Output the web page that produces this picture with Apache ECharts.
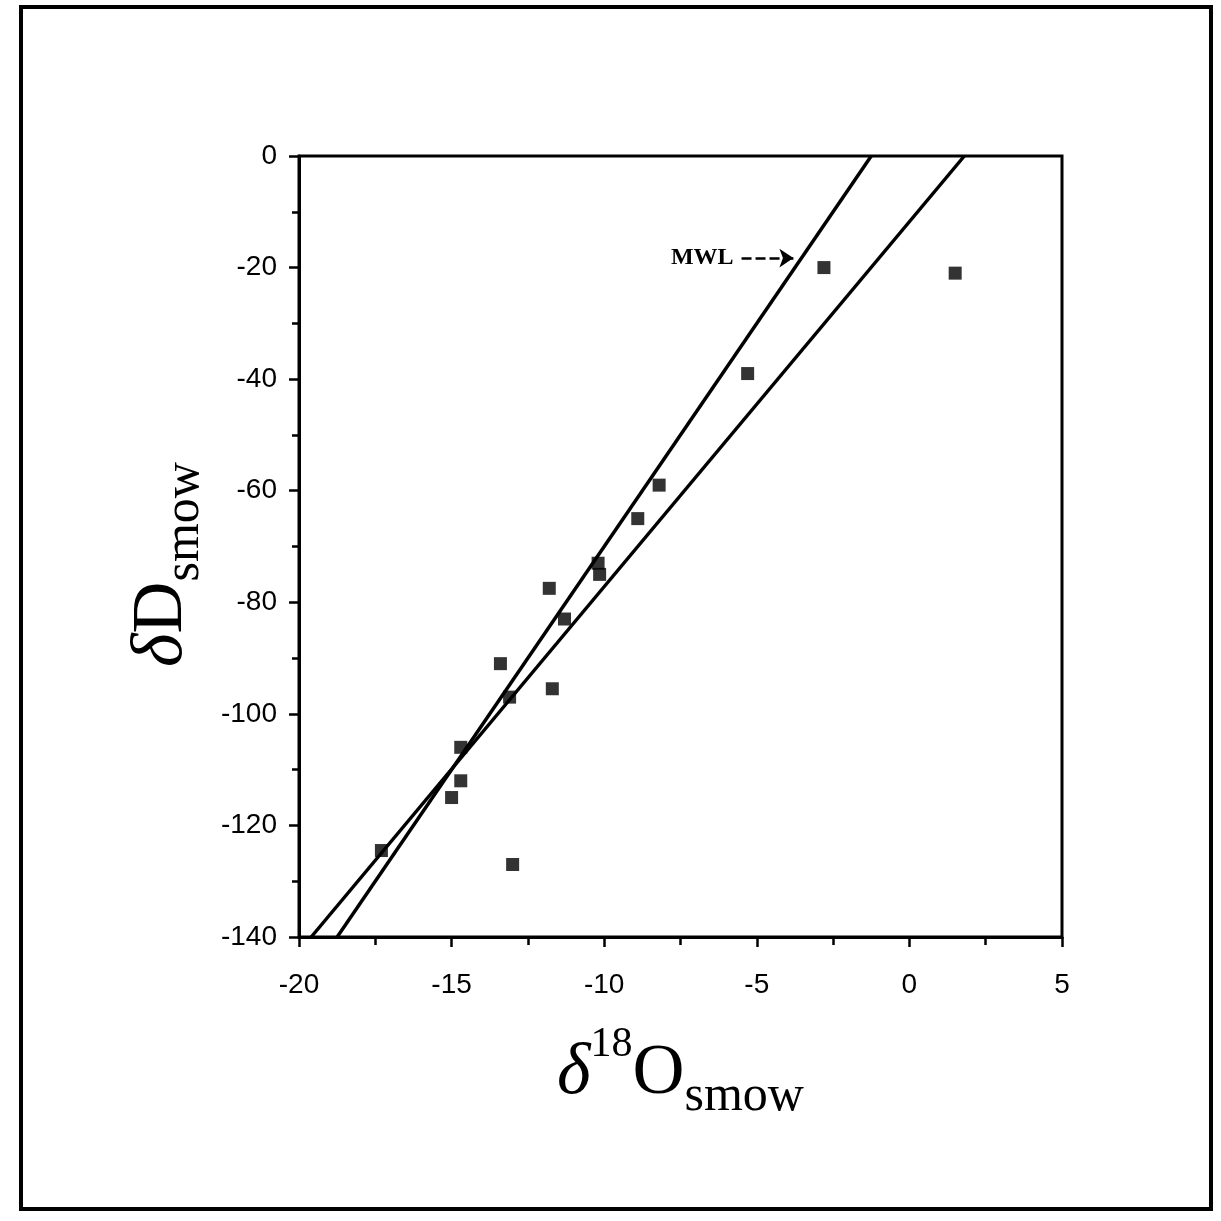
<!DOCTYPE html>
<html>
<head>
<meta charset="utf-8">
<script src="https://cdn.jsdelivr.net/npm/echarts@6/dist/echarts.min.js"></script>
<style>
html, body { margin: 0; padding: 0; background: #fff; }
#main { width: 1221px; height: 1221px; }
</style>
</head>
<body>
<div id="main"></div>
<script>
// samples: delta 18O vs delta D (per mil, SMOW)
let d18O = [-17.3, -15.0, -14.7, -14.7, -13.0, -13.1, -13.4, -11.7, -11.8, -11.3, -10.2, -10.15, -8.9, -8.2, -5.3, -2.8, 1.5];
let dD = [-124.5, -115, -112, -106, -127, -97, -91, -95.5, -77.5, -83, -73, -75, -65, -59, -39, -20, -21];

// meteoric water line and the local fit, given by their end points
let mwlEnds = [[-18.75, -140], [-1.25, 0]];
let fitEnds = [[-19.6, -140], [1.8, 0]];

// "MWL -->" pointer
let arrowFrom = [-5.5, -18.3];
let arrowTo = [-3.8, -18.3];

let xTicks = [-20, -15, -10, -5, 0, 5];
let yTicks = [-140, -120, -100, -80, -60, -40, -20, 0];

let chartDom = document.getElementById('main');
let myChart = echarts.init(chartDom);

let points = d18O.map(function(x, i) {
	return [x, dD[i]];
});

let nameRich = {
	d: {
		fontFamily: 'Liberation Serif',
		fontStyle: 'italic',
		fontSize: 72,
		lineHeight: 72,
		verticalAlign: 'top',
		padding: [24, 0, 0, 0],
		color: '#000'
	},
	big: {
		fontFamily: 'Liberation Serif',
		fontSize: 72,
		lineHeight: 72,
		verticalAlign: 'top',
		padding: [24, 0, 0, 0],
		color: '#000'
	},
	sup: {
		fontFamily: 'Liberation Serif',
		fontSize: 42,
		lineHeight: 42,
		verticalAlign: 'top',
		padding: [10, 0, 0, 0],
		color: '#000'
	},
	sub: {
		fontFamily: 'Liberation Serif',
		fontSize: 50,
		lineHeight: 50,
		verticalAlign: 'top',
		padding: [58, 0, 0, 0],
		color: '#000'
	}
};

let option = {
	animation: false,
	backgroundColor: '#fff',
	graphic: [{
		type: 'rect',
		shape: { x: 21, y: 7, width: 1190, height: 1202 },
		style: { fill: 'none', stroke: '#000', lineWidth: 4 }
	}],
	grid: {
		left: 299,
		right: 159,
		top: 156,
		bottom: 284,
		show: true,
		borderColor: '#000',
		borderWidth: 3
	},
	xAxis: {
		type: 'value',
		min: xTicks[0],
		max: xTicks[xTicks.length - 1],
		interval: 5,
		splitLine: { show: false },
		axisLine: { onZero: false, lineStyle: { color: '#000', width: 3 } },
		axisTick: { length: 10, lineStyle: { color: '#000', width: 2.5 } },
		minorTick: { show: true, splitNumber: 2, length: 8, lineStyle: { color: '#000', width: 2.5 } },
		axisLabel: {
			margin: 34,
			fontFamily: 'Liberation Sans',
			fontSize: 28,
			color: '#000'
		},
		name: '{d|δ}{sup|18}{big|O}{sub|smow}',
		nameLocation: 'middle',
		nameGap: 77,
		nameTextStyle: { rich: nameRich }
	},
	yAxis: {
		type: 'value',
		min: yTicks[0],
		max: yTicks[yTicks.length - 1],
		interval: 20,
		splitLine: { show: false },
		axisLine: { onZero: false, lineStyle: { color: '#000', width: 3 } },
		axisTick: { length: 10, lineStyle: { color: '#000', width: 2.5 } },
		minorTick: { show: true, splitNumber: 2, length: 7, lineStyle: { color: '#000', width: 2.5 } },
		axisLabel: {
			margin: 22,
			fontFamily: 'Liberation Sans',
			fontSize: 28,
			color: '#000'
		},
		name: '{d|δ}{big|D}{sub|smow}',
		nameLocation: 'middle',
		nameGap: 102,
		nameTextStyle: { rich: nameRich, padding: [0, 36, 0, 0] }
	},
	series: [
		{
			name: 'MWL',
			type: 'line',
			data: mwlEnds,
			symbol: 'none',
			lineStyle: { color: '#000', width: 3.5 },
			markLine: {
				silent: true,
				symbol: ['none', 'arrow'],
				symbolSize: 14,
				lineStyle: { color: '#000', width: 2.5, type: [10, 4] },
				label: {
					show: true,
					position: 'start',
					distance: 8,
					formatter: 'MWL',
					fontFamily: 'Liberation Serif',
					fontWeight: 'bold',
					fontSize: 24,
					color: '#000'
				},
				data: [[{ coord: arrowFrom }, { coord: arrowTo }]]
			}
		},
		{
			name: 'fit',
			type: 'line',
			data: fitEnds,
			symbol: 'none',
			lineStyle: { color: '#000', width: 3.5 }
		},
		{
			name: 'samples',
			type: 'scatter',
			data: points,
			symbol: 'rect',
			symbolSize: 13,
			itemStyle: { color: '#000' }
		}
	]
};

option && myChart.setOption(option);
</script>
</body>
</html>
